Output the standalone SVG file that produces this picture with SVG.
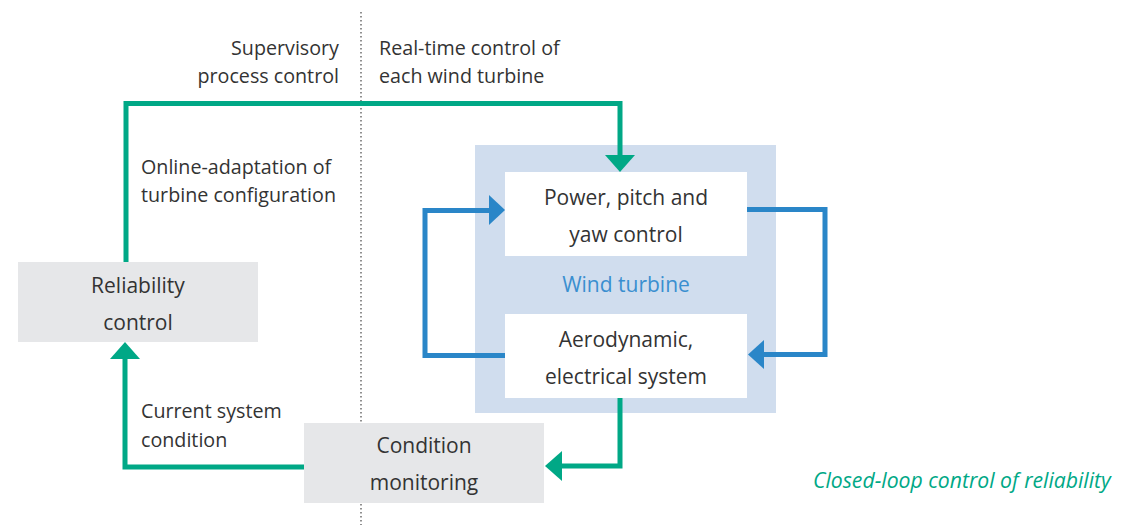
<svg xmlns="http://www.w3.org/2000/svg" width="1129" height="525" viewBox="0 0 1129 525">
<style>
.t{font-family:"Open Sans","Liberation Sans",sans-serif;fill:#333;}
.s{font-size:19.7px;}
.m{font-size:21px;}
.g{stroke:#00A886;stroke-width:5;fill:none;}
.b{stroke:#2A86C8;stroke-width:5;fill:none;}
</style>
<rect width="1129" height="525" fill="#fff"/>
<line x1="361" y1="12" x2="361" y2="525" stroke="#555" stroke-width="1.3" stroke-dasharray="1.5,2.5"/>
<g id="labels">
<text class="t s" x="339" y="55" text-anchor="end">Supervisory</text>
<text class="t s" x="339" y="83" text-anchor="end">process control</text>
<text class="t s" x="379" y="55">Real-time control of</text>
<text class="t s" x="379" y="83">each wind turbine</text>
<text class="t s" x="141" y="174">Online-adaptation of</text>
<text class="t s" x="141" y="202">turbine configuration</text>
<text class="t s" x="141" y="418">Current system</text>
<text class="t s" x="141" y="447">condition</text>
<text x="813" y="488" style="font-family:'Open Sans','Liberation Sans',sans-serif;font-size:21.2px;font-style:italic;fill:#00A886">Closed-loop control of reliability</text>
</g>
<g id="wind-turbine">
<rect x="475" y="145" width="301" height="268" fill="#D0DDEE"/>
<text x="626" y="292" text-anchor="middle" style="font-family:'Open Sans','Liberation Sans',sans-serif;font-size:21px;fill:#3A8FD0">Wind turbine</text>
</g>
<g id="power-control">
<rect x="505" y="172" width="242" height="84" fill="#fff"/>
<text class="t m" x="626" y="205" text-anchor="middle">Power, pitch and</text>
<text class="t m" x="626" y="242" text-anchor="middle">yaw control</text>
</g>
<g id="aero-system">
<rect x="505" y="314" width="242" height="84" fill="#fff"/>
<text class="t m" x="626" y="347" text-anchor="middle">Aerodynamic,</text>
<text class="t m" x="626" y="384" text-anchor="middle">electrical system</text>
</g>
<g id="reliability-control">
<rect x="18" y="262" width="240" height="80" fill="#E6E7E9"/>
<text class="t m" x="138" y="293" text-anchor="middle">Reliability</text>
<text class="t m" x="138" y="330" text-anchor="middle">control</text>
</g>
<g id="condition-monitoring">
<rect x="304" y="423" width="240" height="80" fill="#E6E7E9"/>
<text class="t m" x="424" y="453" text-anchor="middle">Condition</text>
<text class="t m" x="424" y="490" text-anchor="middle">monitoring</text>
</g>
<g id="connectors">
<polyline class="g" points="126,262 126,103.5 620,103.5 620,156"/>
<polygon points="605,155 635,155 620,172" fill="#00A886"/>
<polyline class="g" points="620,398 620,466 560,466"/>
<polygon points="562,451 562,481 545,466" fill="#00A886"/>
<polyline class="g" points="304,467 125,467 125,358"/>
<polygon points="110,359 140,359 125,342" fill="#00A886"/>
<polyline class="b" points="505,355.5 425,355.5 425,210.5 490,210.5"/>
<polygon points="489,195 489,225 505,210" fill="#2A86C8"/>
<polyline class="b" points="747,209.5 825,209.5 825,354.5 763,354.5"/>
<polygon points="764,340 764,369 748,354.5" fill="#2A86C8"/>
</g>
</svg>
